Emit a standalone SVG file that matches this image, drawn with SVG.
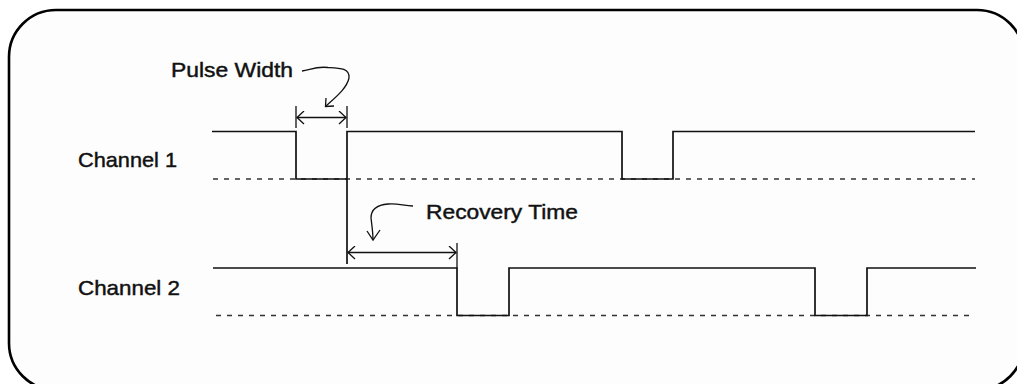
<svg xmlns="http://www.w3.org/2000/svg" width="1017" height="384" viewBox="0 0 1017 384">
<style>
.frame{fill:#fdfdfd;stroke:#000;stroke-width:2.6}
.sig{fill:none;stroke:#111;stroke-width:1.7}
.base{fill:none;stroke:#333;stroke-width:1.5;stroke-dasharray:5 6}
.dim{fill:none;stroke:#111;stroke-width:1.3}
.lbl{font-family:"Liberation Sans",Arial,sans-serif;font-size:21px;fill:#111;stroke:#111;stroke-width:0.45}
</style>
<defs>
<marker id="vh" viewBox="0 0 10 14" refX="8" refY="7" markerWidth="10" markerHeight="14" markerUnits="userSpaceOnUse" orient="auto-start-reverse">
<path d="M1,0.5 L8,7 L1,13.5" fill="none" stroke="#111" stroke-width="1.3"/>
</marker>
</defs>
<rect class="frame" x="9" y="10" width="1015" height="380" rx="47" ry="47"/>
<g id="connectors">
<path class="dim" d="M296,106 V128 M347,106 V128"/>
<path class="dim" d="M297,117.5 H346" marker-start="url(#vh)" marker-end="url(#vh)"/>
<path class="dim" d="M348,252.5 H456" marker-start="url(#vh)" marker-end="url(#vh)"/>
<path class="dim" d="M457,243 V268"/>
<path class="dim" d="M302,71 C310,70 316,66 328,67.5 C340,68 350,68 349,78 C347,88 336,97 326,106"/>
<path class="dim" d="M326,98 L325.5,106.5 L334,106"/>
<path class="dim" d="M413,206 C404,206 398,203 388,204 C376,205 371,210 371,218 C372,226 373,233 373,240"/>
<path class="dim" d="M367,231 L373,240 L380,230"/>
</g>
<g id="channel1">
<text class="lbl" x="78" y="167" textLength="99" lengthAdjust="spacingAndGlyphs">Channel 1</text>
<path class="base" d="M213,179 H975"/>
<path class="sig" d="M212,131.5 H296 V179 H347 V131.5 H622 V179 H673 V131.5 H975"/>
<path class="sig" d="M347,179 V264"/>
</g>
<g id="channel2">
<text class="lbl" x="78" y="295" textLength="102" lengthAdjust="spacingAndGlyphs">Channel 2</text>
<path class="base" d="M216,315.5 H972"/>
<path class="sig" d="M213,268 H457 V315.5 H509 V268 H815 V315.5 H867 V268 H976"/>
</g>
<g id="pulse-width">
<text class="lbl" x="171" y="77" textLength="122" lengthAdjust="spacingAndGlyphs">Pulse Width</text>
</g>
<g id="recovery-time">
<text class="lbl" x="426" y="218.5" textLength="152" lengthAdjust="spacingAndGlyphs">Recovery Time</text>
</g>
</svg>
